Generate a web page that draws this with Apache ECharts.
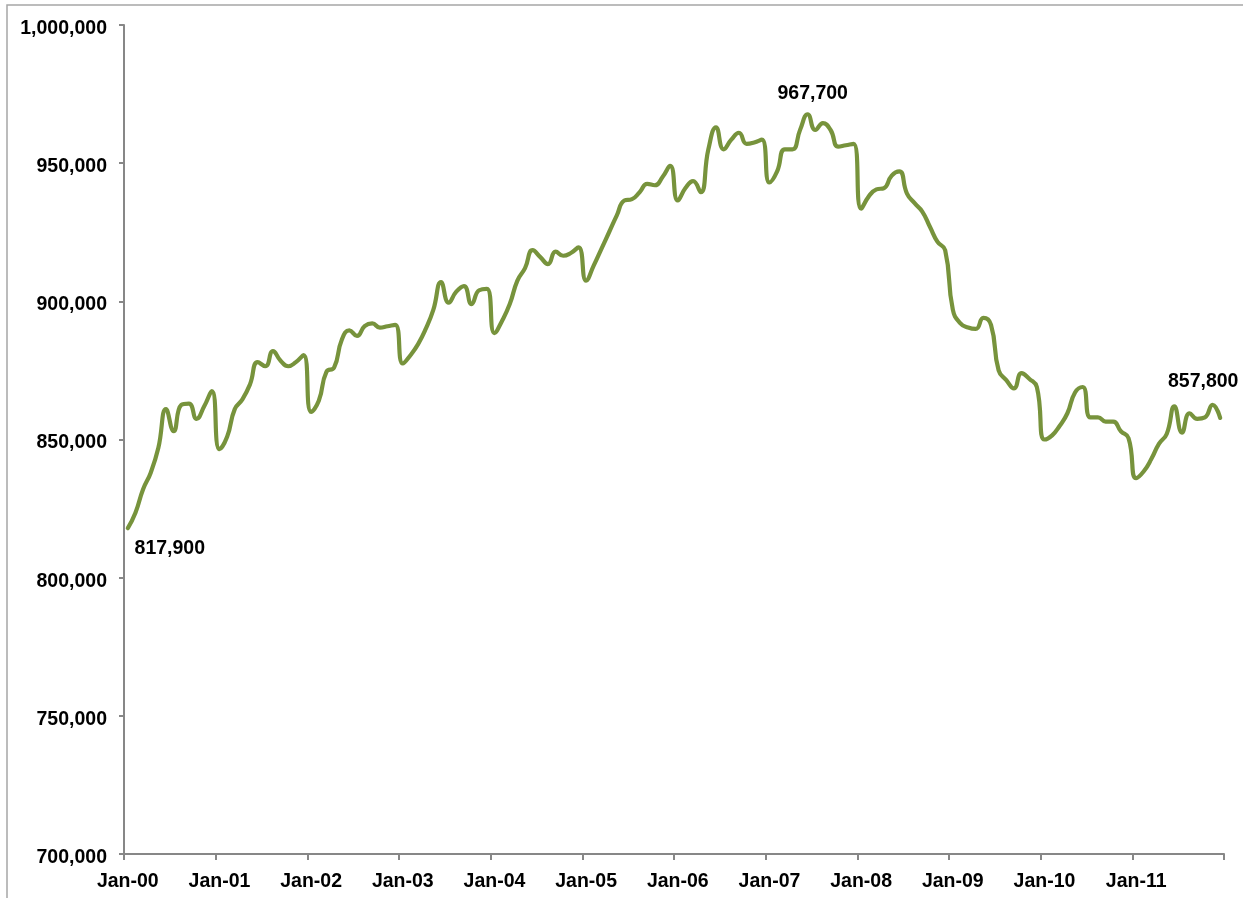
<!DOCTYPE html>
<html>
<head>
<meta charset="utf-8">
<title>Monthly employment, 2000–2011</title>
<script src="https://cdn.jsdelivr.net/npm/echarts@6/dist/echarts.min.js"></script>
<style>
  html, body { margin: 0; padding: 0; background: #ffffff; }
  #chart { width: 1243px; height: 898px; }
</style>
</head>
<body>
<div id="chart"></div>
<script>
// Month labels: Jan-00 through Dec-11
const monthNames = ['Jan','Feb','Mar','Apr','May','Jun','Jul','Aug','Sep','Oct','Nov','Dec'];
const categories = [];
for (let y = 0; y < 12; y++) {
  for (let m = 0; m < 12; m++) {
    categories.push(monthNames[m] + '-' + String(y).padStart(2, '0'));
  }
}

// Monthly values
const values2000 = [817900, 823500, 832000, 838000, 847000, 861000, 853000, 862500, 863000, 857500, 862000, 867500];
const values2001 = [846500, 851000, 861000, 864500, 870000, 878000, 876500, 882000, 878500, 876500, 878000, 880500];
const values2002 = [860000, 864000, 874500, 876000, 886000, 889500, 887500, 891000, 892000, 890500, 891000, 891500];
const values2003 = [877500, 880500, 884500, 890000, 897000, 907000, 899500, 903500, 905500, 899000, 904000, 904500];
const values2004 = [888500, 893000, 899000, 907500, 912000, 918500, 916000, 913500, 918000, 916500, 917500, 919500];
const values2005 = [907500, 913000, 919000, 925000, 931000, 936500, 937000, 939500, 942500, 942000, 945000, 949000];
const values2006 = [936500, 941000, 943500, 939500, 955000, 963000, 955000, 958500, 961000, 957000, 957500, 958500];
const values2007 = [943000, 947000, 955000, 955000, 962000, 967700, 962000, 964500, 962000, 956000, 956500, 957000];
const values2008 = [933500, 938000, 940500, 941000, 945500, 947000, 939000, 935500, 932500, 927000, 921500, 918500];
const values2009 = [897000, 892000, 890500, 890000, 894000, 891500, 875000, 871500, 868500, 874000, 872000, 869000];
const values2010 = [850000, 851500, 855000, 859500, 867000, 869000, 858000, 858000, 856500, 856500, 853000, 850500];
const values2011 = [836000, 838500, 843000, 848500, 852000, 862000, 852500, 859500, 857500, 858000, 862500, 857800];

const values = [].concat(values2000, values2001, values2002, values2003, values2004, values2005,
  values2006, values2007, values2008, values2009, values2010, values2011);

// Y-axis range and step
const yMin = 700000;
const yMax = 1000000;
const yStep = 50000;

// Points that carry a value label (start, peak, latest) and where the
// label's centre sits relative to the point, in pixels
const labelledPoints = [
  { index: 0, shift: [42, 20] },
  { index: 89, shift: [5, -21] },
  { index: 143, shift: [-17, -36] }
];

const FONT = '"Liberation Sans", Arial, sans-serif';
const fmt = v => Number(v).toLocaleString('en-US');

const seriesData = values.map((v, i) => {
  const lp = labelledPoints.find(p => p.index === i);
  if (!lp) return v;
  return {
    value: v,
    label: {
      show: true,
      position: lp.shift,
      align: 'center',
      verticalAlign: 'middle',
      formatter: p => fmt(p.value),
      fontFamily: FONT,
      fontWeight: 'bold',
      fontSize: 19.5,
      color: '#000000'
    }
  };
});

const chart = echarts.init(document.getElementById('chart'), null, { renderer: 'canvas' });

const option = {
  backgroundColor: '#ffffff',
  animation: false,
  textStyle: { fontFamily: FONT },
  graphic: [{
    type: 'rect',
    silent: true,
    shape: { x: 7, y: 5, width: 1300, height: 1000 },
    style: { fill: 'none', stroke: '#a6a6a6', lineWidth: 1.5 }
  }],
  grid: { left: 124, right: 19, top: 25, bottom: 44 },
  xAxis: {
    type: 'category',
    data: categories,
    boundaryGap: true,
    axisLine: { show: true, lineStyle: { color: '#878787', width: 2 } },
    axisTick: {
      show: true,
      interval: 11,
      alignWithLabel: false,
      length: 6,
      lineStyle: { color: '#878787', width: 2 }
    },
    axisLabel: {
      interval: 11,
      margin: 18,
      fontFamily: FONT,
      fontWeight: 'bold',
      fontSize: 19.5,
      color: '#000000'
    },
    splitLine: { show: false }
  },
  yAxis: {
    type: 'value',
    min: yMin,
    max: yMax,
    interval: yStep,
    axisLine: { show: true, lineStyle: { color: '#878787', width: 2 } },
    axisTick: { show: true, length: 5, lineStyle: { color: '#878787', width: 2 } },
    axisLabel: {
      margin: 17,
      formatter: v => '{v|' + fmt(v) + '}',
      rich: {
        v: {
          padding: [7, 0, 0, 0],
          fontFamily: FONT,
          fontWeight: 'bold',
          fontSize: 19.5,
          color: '#000000'
        }
      }
    },
    splitLine: { show: false }
  },
  series: [{
    type: 'line',
    data: seriesData,
    smooth: 0.5,
    symbol: 'circle',
    symbolSize: 0,
    showSymbol: true,
    showAllSymbol: true,
    lineStyle: { color: '#77933c', width: 4.2, cap: 'round', join: 'round' },
    itemStyle: { color: '#77933c' },
    labelLayout: { hideOverlap: false }
  }]
};

chart.setOption(option);
</script>
</body>
</html>
